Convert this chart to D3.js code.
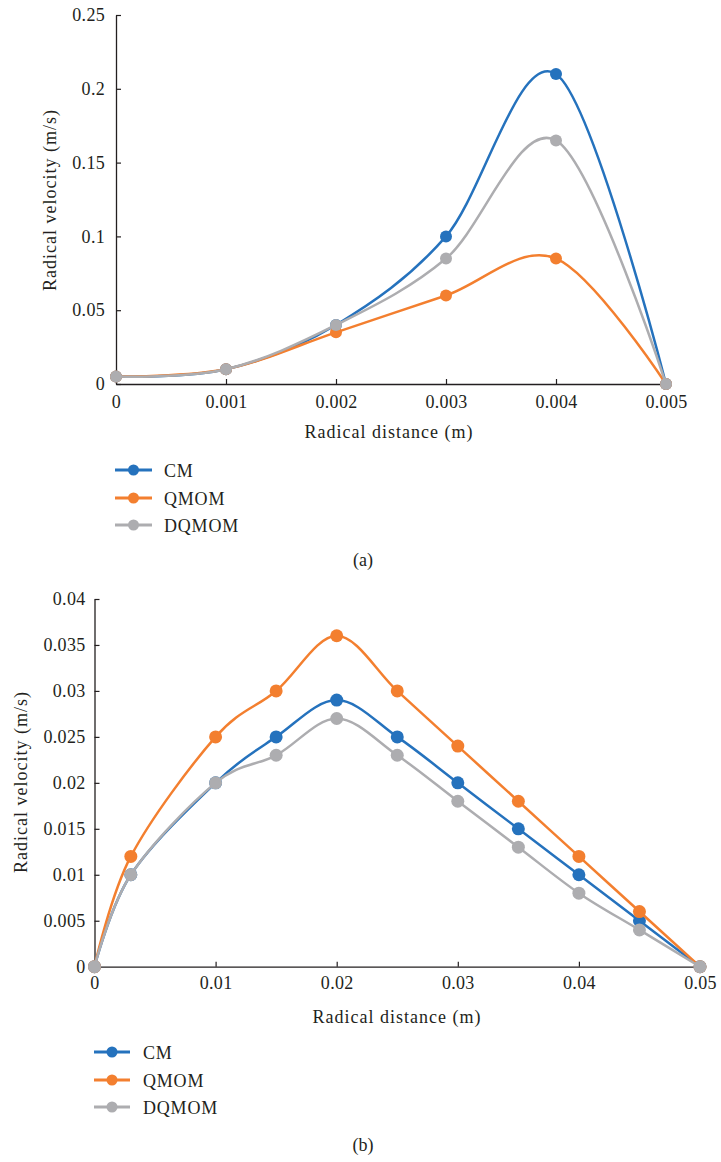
<!DOCTYPE html>
<html>
<head>
<meta charset="utf-8">
<script src="https://cdn.jsdelivr.net/npm/d3@7"></script>
<style>
  body { margin: 0; background: #fff; }
  svg { display: block; }
  text { font-family: "Liberation Serif", "Times New Roman", serif; fill: #231f20; }
</style>
</head>
<body>
<svg id="chart" width="721" height="1162"></svg>
<script>
// series names and colours
const seriesNames = ["CM", "QMOM", "DQMOM"];
const seriesColors = ["#2572bd", "#f37f2f", "#adadb0"];

// panel (a)
const xA = [0, 0.001, 0.002, 0.003, 0.004, 0.005];
const cmA = [0.005, 0.01, 0.04, 0.1, 0.21, 0];
const qmomA = [0.005, 0.01, 0.035, 0.06, 0.085, 0];
const dqmomA = [0.005, 0.01, 0.04, 0.085, 0.165, 0];
const xTicksA = [0, 0.001, 0.002, 0.003, 0.004, 0.005];
const yTicksA = [0, 0.05, 0.1, 0.15, 0.2, 0.25];

// panel (b)
const xB = [0, 0.003, 0.01, 0.015, 0.02, 0.025, 0.03, 0.035, 0.04, 0.045, 0.05];
const cmB = [0, 0.01, 0.02, 0.025, 0.029, 0.025, 0.02, 0.015, 0.01, 0.005, 0];
const qmomB = [0, 0.012, 0.025, 0.03, 0.036, 0.03, 0.024, 0.018, 0.012, 0.006, 0];
const dqmomB = [0, 0.01, 0.02, 0.023, 0.027, 0.023, 0.018, 0.013, 0.008, 0.004, 0];
const xTicksB = [0, 0.01, 0.02, 0.03, 0.04, 0.05];
const yTicksB = [0, 0.005, 0.01, 0.015, 0.02, 0.025, 0.03, 0.035, 0.04];

const svg = d3.select("#chart");
const fmt = d3.format("~g");

function drawPanel(cfg) {
  const x = d3.scaleLinear().domain(cfg.xDomain).range(cfg.xRange);
  const y = d3.scaleLinear().domain(cfg.yDomain).range(cfg.yRange);
  const g = svg.append("g");

  const xAxis = g.append("g")
    .attr("transform", `translate(0,${cfg.yRange[0]})`)
    .call(d3.axisBottom(x).tickValues(cfg.xTicks).tickFormat(fmt)
      .tickSizeInner(-5).tickSizeOuter(0).tickPadding(cfg.xPad));
  const yAxis = g.append("g")
    .attr("transform", `translate(${cfg.xRange[0]},0)`)
    .call(d3.axisLeft(y).tickValues(cfg.yTicks).tickFormat(fmt)
      .tickSizeInner(-5).tickSizeOuter(0).tickPadding(cfg.yPad));

  [xAxis, yAxis].forEach(a => {
    a.select(".domain").attr("stroke", "#231f20").attr("stroke-width", 1.3);
    a.selectAll(".tick line").attr("stroke", "#231f20").attr("stroke-width", 1.2);
    a.selectAll(".tick text").attr("font-size", 18).attr("fill", "#231f20")
      .attr("font-family", "Liberation Serif").style("letter-spacing", "0.3px");
  });

  // axis titles
  g.append("text")
    .attr("x", cfg.xTitle[0]).attr("y", cfg.xTitle[1])
    .attr("text-anchor", "middle").attr("font-size", 18)
    .style("letter-spacing", "1px")
    .text("Radical distance (m)");
  g.append("text")
    .attr("transform", `translate(${cfg.yTitle[0]},${cfg.yTitle[1]}) rotate(-90)`)
    .attr("text-anchor", "middle").attr("font-size", 18)
    .style("letter-spacing", "1px")
    .text("Radical velocity (m/s)");

  const line = d3.line()
    .x(d => x(d[0])).y(d => y(d[1]))
    .curve(d3.curveCardinal.tension(0));

  cfg.series.forEach((vals, i) => {
    const pts = cfg.xs.map((xv, j) => [xv, vals[j]]);
    const s = g.append("g");
    s.append("path")
      .attr("d", line(pts))
      .attr("fill", "none")
      .attr("stroke", seriesColors[i])
      .attr("stroke-width", 2.5);
    s.selectAll("circle").data(pts).join("circle")
      .attr("cx", d => x(d[0])).attr("cy", d => y(d[1]))
      .attr("r", cfg.r)
      .attr("fill", seriesColors[i]);
  });

  // legend
  const lg = g.append("g");
  seriesNames.forEach((name, i) => {
    const ly = cfg.legend.y[i];
    lg.append("line")
      .attr("x1", cfg.legend.x0).attr("x2", cfg.legend.x1)
      .attr("y1", ly).attr("y2", ly)
      .attr("stroke", seriesColors[i]).attr("stroke-width", 3);
    lg.append("circle")
      .attr("cx", (cfg.legend.x0 + cfg.legend.x1) / 2).attr("cy", ly)
      .attr("r", 5.5).attr("fill", seriesColors[i]);
    lg.append("text")
      .attr("x", cfg.legend.tx).attr("y", ly + 6.5)
      .attr("font-size", 18).style("letter-spacing", "0.8px")
      .text(name);
  });

  g.append("text")
    .attr("x", cfg.label[0]).attr("y", cfg.label[1])
    .attr("text-anchor", "middle").attr("font-size", 18)
    .text(cfg.label[2]);
}

drawPanel({
  xs: xA, series: [cmA, qmomA, dqmomA],
  xDomain: [0, 0.005], xRange: [116, 666],
  yDomain: [0, 0.25], yRange: [384, 15],
  xTicks: xTicksA, yTicks: yTicksA,
  xPad: 11, yPad: 11, r: 6,
  xTitle: [389, 438], yTitle: [56, 200],
  legend: { x0: 115, x1: 152, tx: 164, y: [470, 498, 525] },
  label: [363, 566, "(a)"]
});

drawPanel({
  xs: xB, series: [cmB, qmomB, dqmomB],
  xDomain: [0, 0.05], xRange: [94.5, 700],
  yDomain: [0, 0.04], yRange: [966.7, 599],
  xTicks: xTicksB, yTicks: yTicksB,
  xPad: 10, yPad: 9, r: 6.5,
  xTitle: [397, 1023], yTitle: [27, 782],
  legend: { x0: 94, x1: 130, tx: 143, y: [1052, 1080, 1107] },
  label: [363, 1151, "(b)"]
});
</script>
</body>
</html>
